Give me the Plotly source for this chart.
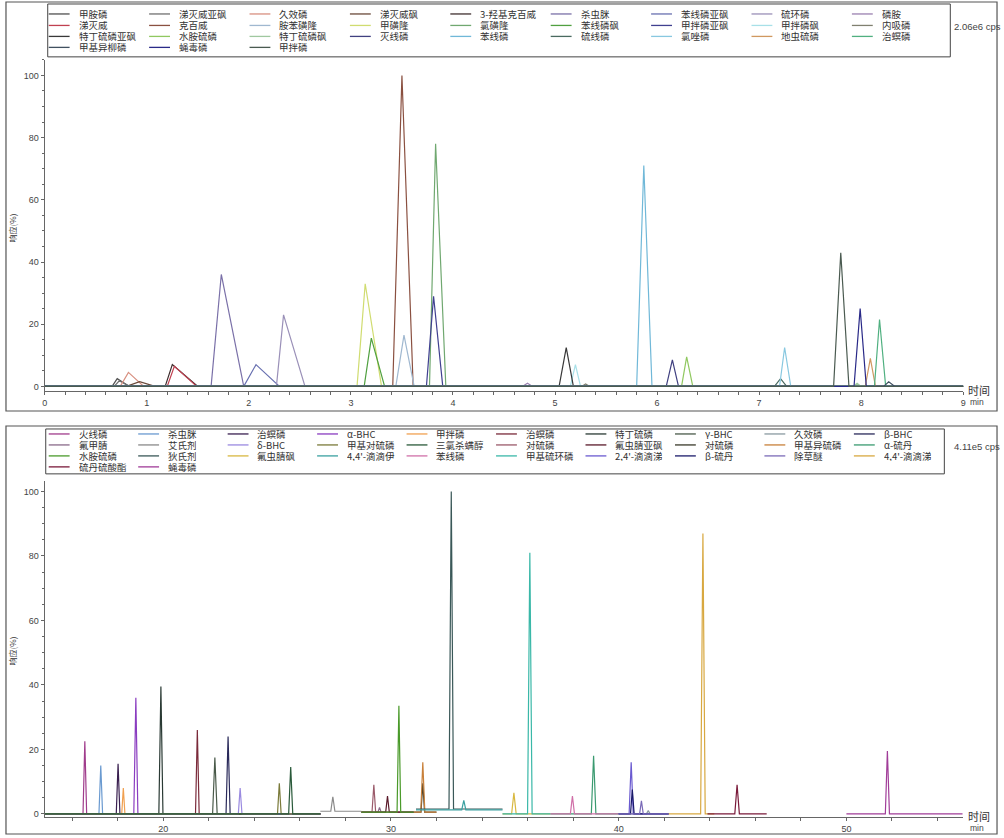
import plotly.graph_objects as go

W, H = 1004, 838

# ---------------- Top panel (LC-MS/MS, 0-9 min) ----------------
top_names = ["甲胺磷", "涕灭威亚砜", "久效磷", "涕灭威砜", "3-羟基克百威", "杀虫脒", "苯线磷亚砜", "硫环磷", "磷胺",
             "涕灭威", "克百威", "胺苯磺隆", "甲磺隆", "氯磺隆", "苯线磷砜", "甲拌磷亚砜", "甲拌磷砜", "内吸磷",
             "特丁硫磷亚砜", "水胺硫磷", "特丁硫磷砜", "灭线磷", "苯线磷", "硫线磷", "氯唑磷", "地虫硫磷", "治螟磷",
             "甲基异柳磷", "蝇毒磷", "甲拌磷"]
top_colors = ["#505050", "#707070", "#d89080", "#6a4a3a", "#403030", "#7a70a8", "#6870b0", "#9a90b8", "#9a80b0",
              "#c04050", "#8a5040", "#a0b8d0", "#d0dc70", "#70a870", "#50a040", "#404090", "#a8e0e8", "#808070",
              "#383838", "#90c860", "#a0c8a0", "#404080", "#70b8d8", "#4a6a60", "#88c8e0", "#d09860", "#50b080",
              "#405060", "#2a2a88", "#4a5a50"]
top_rt = [0.71, 0.73, 0.82, 0.93, 1.25, 1.73, 2.07, 2.34, 4.73,
          1.27, 3.50, 3.52, 3.14, 3.83, 3.20, 3.81, 5.20, 5.30,
          5.11, 6.29, 7.96, 6.15, 5.87, 7.21, 7.25, 8.09, 8.18,
          8.27, 7.99, 7.80]
top_height = [2.5, 1.8, 4.5, 1.5, 7.0, 36.0, 7.0, 23.0, 1.0,
              6.5, 100.0, 16.5, 33.0, 78.0, 15.5, 29.0, 7.0, 0.8,
              12.5, 9.5, 1.0, 8.5, 71.0, 2.5, 12.5, 9.0, 21.5,
              1.5, 25.0, 43.0]
top_left_w = [0.05, 0.05, 0.08, 0.13, 0.07, 0.10, 0.12, 0.07, 0.05,
              0.07, 0.09, 0.08, 0.08, 0.06, 0.07, 0.07, 0.05, 0.04,
              0.07, 0.05, 0.04, 0.06, 0.07, 0.06, 0.05, 0.05, 0.05,
              0.05, 0.06, 0.07]
top_right_w = [0.12, 0.10, 0.15, 0.15, 0.25, 0.22, 0.23, 0.21, 0.05,
               0.22, 0.11, 0.10, 0.16, 0.10, 0.13, 0.09, 0.05, 0.04,
               0.07, 0.06, 0.04, 0.06, 0.08, 0.06, 0.06, 0.05, 0.06,
               0.06, 0.06, 0.08]
top_seg = (0.0, 9.0)

# ---------------- Bottom panel (GC-MS/MS, 15-55 min) ----------------
bot_names = ["火线磷", "杀虫脒", "治螟磷", "α-BHC", "甲拌磷", "治螟磷", "特丁硫磷", "γ-BHC", "久效磷", "β-BHC",
             "氟甲腈", "艾氏剂", "δ-BHC", "甲基对硫磷", "三氯杀螨醇", "对硫磷", "氟虫腈亚砜", "对硫磷", "甲基异硫磷", "α-硫丹",
             "水胺硫磷", "狄氏剂", "氟虫腈砜", "4,4'-滴滴伊", "苯线磷", "甲基硫环磷", "2,4'-滴滴涕", "β-硫丹", "除草醚", "4,4'-滴滴涕",
             "硫丹硫酸酯", "蝇毒磷"]
bot_colors = ["#a03c8c", "#6a9ad0", "#3a2050", "#8a3cc0", "#f0a050", "#7a2a3a", "#2a3a34", "#4a5a4a", "#8a9aa0", "#2a2a5a",
              "#8a6a8a", "#8a8a8a", "#9a8ae0", "#7a7a3a", "#2a5a3a", "#9a5a6a", "#5a1a2a", "#3a3a2a", "#c8803a", "#3a9a70",
              "#4a9a2a", "#3a5858", "#d8b840", "#3aa0a0", "#d070a8", "#3ab8a8", "#6a5ad0", "#1a1a6a", "#7a6ab8", "#d8a840",
              "#7a1a3a", "#a03c98"]
bot_rt = [16.56, 17.26, 18.02, 18.80, 18.25, 21.50, 19.90, 22.27, 41.30, 22.85,
          29.50, 27.45, 23.38, 25.10, 25.60, 29.25, 29.85, 31.40, 31.40, 38.90,
          30.35, 32.65, 35.40, 33.20, 37.97, 36.10, 40.55, 40.60, 41.00, 43.70,
          45.20, 51.80]
bot_height = [22.5, 15.0, 15.5, 36.0, 8.0, 26.0, 39.5, 17.5, 1.0, 24.0,
              1.5, 4.5, 8.0, 9.5, 14.5, 8.5, 5.0, 9.0, 15.5, 18.0,
              33.0, 98.5, 6.5, 3.0, 5.5, 81.0, 16.0, 7.5, 4.0, 87.0,
              9.0, 19.5]
bot_base = [0, 0, 0, 0, 0, 0, 0, 0, 0, 0,
            0.5, 0.8, 0, 0, 0, 0.5, 0.5, 0.5, 0.5, 0,
            0.5, 1.5, 0, 1.2, 0, 0, 0, 0, 0, 0,
            0, 0]
bot_width = [0.08, 0.08, 0.08, 0.09, 0.07, 0.08, 0.09, 0.10, 0.08, 0.09,
             0.07, 0.09, 0.08, 0.08, 0.09, 0.08, 0.08, 0.08, 0.09, 0.10,
             0.08, 0.10, 0.10, 0.09, 0.09, 0.10, 0.09, 0.08, 0.08, 0.10,
             0.10, 0.09]
bot_seg_start = [14.8, 14.8, 14.8, 14.8, 14.8, 14.8, 14.8, 14.8, 40.0, 14.8,
                 28.7, 26.9, 14.8, 14.8, 14.8, 28.7, 28.7, 31.0, 31.0, 37.0,
                 28.7, 31.1, 34.9, 31.1, 37.0, 34.9, 40.0, 40.0, 40.0, 42.2,
                 43.9, 50.0]
bot_seg_end = [26.9, 26.9, 26.9, 26.9, 26.9, 26.9, 26.9, 26.9, 42.2, 26.9,
               31.0, 28.7, 26.9, 26.9, 26.9, 31.0, 31.0, 32.0, 32.0, 40.0,
               31.0, 34.9, 37.0, 34.9, 40.0, 37.0, 42.2, 42.2, 42.2, 44.2,
               46.5, 55.1]

fig = go.Figure()

for i, name in enumerate(top_names):
    rt, h = top_rt[i], top_height[i]
    xs = [top_seg[0], rt - top_left_w[i], rt, rt + top_right_w[i], top_seg[1]]
    ys = [0, 0, h, 0, 0]
    fig.add_trace(go.Scatter(x=xs, y=ys, mode="lines", name=name, showlegend=False,
                             line=dict(color=top_colors[i], width=1.2),
                             xaxis="x", yaxis="y"))

for i, name in enumerate(bot_names):
    rt, h, b, w = bot_rt[i], bot_height[i], bot_base[i], bot_width[i]
    xs = [bot_seg_start[i], rt - w, rt, rt + w, bot_seg_end[i]]
    ys = [b, b, b + h, b, b]
    fig.add_trace(go.Scatter(x=xs, y=ys, mode="lines", name=name, showlegend=False,
                             line=dict(color=bot_colors[i], width=1.2),
                             xaxis="x2", yaxis="y2"))

def px(x):
    return x / W

def py(y):
    return 1 - y / H

axis_common = dict(showline=True, linecolor="#666666", linewidth=1.3, ticks="outside", ticklen=3,
                   tickcolor="#666666", showgrid=False, zeroline=False,
                   tickfont=dict(family="Liberation Sans, Arial", size=9, color="#444444"))

fig.update_layout(
    width=W, height=H, margin=dict(l=0, r=0, t=0, b=0),
    paper_bgcolor="white", plot_bgcolor="white", showlegend=False, hovermode=False,
    xaxis=dict(domain=[px(42), px(966)], range=[0, 9], anchor="y", tickvals=list(range(0, 10)),
               minor=dict(dtick=0.2, ticks="outside", ticklen=2.5, tickcolor="#666666"), **axis_common),
    yaxis=dict(domain=[py(392), py(60)], range=[-1.5, 105.0], anchor="x", tickvals=[0, 20, 40, 60, 80, 100],
               minor=dict(dtick=5, ticks="outside", ticklen=2, tickcolor="#666666"), **axis_common),
    xaxis2=dict(domain=[px(42), px(966)], range=[14.8, 55.13], anchor="y2", tickvals=[20, 30, 40, 50],
                minor=dict(dtick=2, ticks="outside", ticklen=2.5, tickcolor="#666666"), **axis_common),
    yaxis2=dict(domain=[py(819), py(482)], range=[-1.0, 103.3], anchor="x2", tickvals=[0, 20, 40, 60, 80, 100],
                minor=dict(dtick=5, ticks="outside", ticklen=2, tickcolor="#666666"), **axis_common),
)

shapes = []
annotations = []

# panel frames
shapes.append(dict(type="rect", xref="paper", yref="paper", x0=px(3), x1=px(1000), y0=py(412), y1=py(2),
                   line=dict(color="#555555", width=1.2), fillcolor="rgba(0,0,0,0)", layer="below"))
shapes.append(dict(type="rect", xref="paper", yref="paper", x0=px(3), x1=px(1000), y0=py(836), y1=py(427),
                   line=dict(color="#555555", width=1.2), fillcolor="rgba(0,0,0,0)", layer="below"))
# legend boxes
shapes.append(dict(type="rect", xref="paper", yref="paper", x0=px(45), x1=px(953), y0=py(57), y1=py(4),
                   line=dict(color="#444444", width=1), fillcolor="white"))
shapes.append(dict(type="rect", xref="paper", yref="paper", x0=px(43), x1=px(947), y0=py(475), y1=py(430),
                   line=dict(color="#444444", width=1), fillcolor="white"))

cjk = "Noto Sans CJK SC, Liberation Sans, Arial"

def legend(names, colors, x_first, x_step, ncols, row_y):
    for i, (n, c) in enumerate(zip(names, colors)):
        r, k = divmod(i, ncols)
        tx = x_first + k * x_step
        yy = row_y[r]
        shapes.append(dict(type="line", xref="paper", yref="paper", x0=px(tx - 29), x1=px(tx - 8),
                           y0=py(yy), y1=py(yy), line=dict(color=c, width=1.3)))
        annotations.append(dict(xref="paper", yref="paper", x=px(tx), y=py(yy), text=n, showarrow=False,
                                xanchor="left", yanchor="middle", height=10, borderpad=0,
                                font=dict(family=cjk, size=9.5, color="#333333")))

legend(top_names, top_colors, 75, 101, 9, [14, 25.5, 36.5, 47.5])
legend(bot_names, bot_colors, 75, 90, 10, [435, 446, 457, 468])

# intensity labels
annotations.append(dict(xref="paper", yref="paper", x=px(955), y=py(27), text="2.06e6 cps", showarrow=False,
                        xanchor="left", yanchor="middle", font=dict(family="Liberation Sans, Arial", size=9.5, color="#444444")))
annotations.append(dict(xref="paper", yref="paper", x=px(955), y=py(448), text="4.11e5 cps", showarrow=False,
                        xanchor="left", yanchor="middle", font=dict(family="Liberation Sans, Arial", size=9.5, color="#444444")))
# y-axis titles
for yy in (228, 652):
    annotations.append(dict(xref="paper", yref="paper", x=px(10), y=py(yy), text="响应(%)", showarrow=False,
                            textangle=-90, xanchor="center", yanchor="middle",
                            font=dict(family=cjk, size=8, color="#333333")))
# x-axis unit labels
for yy in (391, 818):
    annotations.append(dict(xref="paper", yref="paper", x=px(970), y=py(yy), text="时间", showarrow=False,
                            xanchor="left", yanchor="middle", borderpad=0,
                            font=dict(family=cjk, size=11, color="#333333")))
    annotations.append(dict(xref="paper", yref="paper", x=px(972), y=py(yy + 12), text="min", showarrow=False,
                            xanchor="left", yanchor="middle", borderpad=0,
                            font=dict(family="Liberation Sans, Arial", size=8.5, color="#444444")))

fig.update_layout(shapes=shapes, annotations=annotations)
fig.write_html("out.html", config={"displayModeBar": False},
               post_script="document.body.style.margin='0';document.body.style.overflow='hidden';")
